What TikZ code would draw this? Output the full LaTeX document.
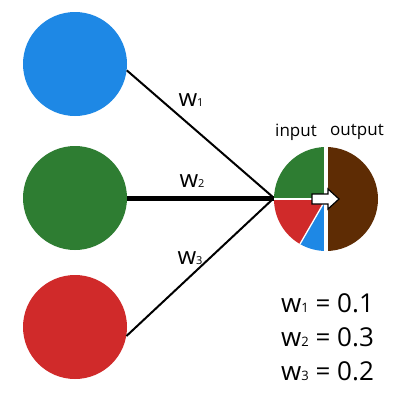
\documentclass[tikz,border=0pt]{standalone}
\usepackage{fontspec}
\setmainfont{Open Sans}
\definecolor{cblue}{RGB}{30,136,229}
\definecolor{cgreen}{RGB}{46,125,50}
\definecolor{cred}{RGB}{208,42,42}
\definecolor{cbrown}{RGB}{94,44,4}
\tikzset{
  neuron/.style={circle, minimum size=104pt, inner sep=0pt, draw=none},
  wlab/.style={font=\fontsize{24}{26}\selectfont, inner sep=0pt},
  eqlab/.style={font=\fontsize{26}{28}\selectfont, inner sep=0pt, anchor=base west},
  hdr/.style={font=\fontsize{17}{19}\selectfont, inner sep=0pt},
  conn/.style={line width=2pt},
}
\newcommand{\sbx}[1]{{\fontsize{11}{12}\selectfont #1}}
\newcommand{\sbe}[1]{{\fontsize{13}{14}\selectfont #1}}
\begin{document}
\begin{tikzpicture}[x=1pt,y=-1pt]
\useasboundingbox (0,0) rectangle (400,400);
\fill[white] (0,0) rectangle (400,400);
\node[neuron, fill=cblue] (b) at (75,64) {};
\node[neuron, fill=cgreen] (g) at (75,198) {};
\node[neuron, fill=cred] (r) at (75,327) {};
\coordinate (hub) at (274,198);
\draw[conn] (b.-7) -- (hub);
\draw[line width=5pt] (g.0) -- (hub);
\draw[conn] (r.-10) -- (hub);
\begin{scope}[shift={(326,199)}, y=1pt]
  \fill[cgreen] (0,0) -- (90:52) arc[start angle=90, end angle=180, radius=52] -- cycle;
  \fill[cred] (0,0) -- (180:52) arc[start angle=180, end angle=240, radius=52] -- cycle;
  \fill[cblue] (0,0) -- (240:52) arc[start angle=240, end angle=270, radius=52] -- cycle;
  \fill[cbrown] (0,0) -- (-90:52) arc[start angle=-90, end angle=90, radius=52] -- cycle;
  \draw[white, line width=1.3pt] (0,0) -- (180:52);
  \draw[white, line width=1.3pt] (0,0) -- (240:52);
  \draw[white, line width=3.5pt] (0,53) -- (0,-53);
  \draw[black, line width=1.2pt, fill=white, line join=miter]
    (-14,5) -- (2,5) -- (2,10) -- (13,0) -- (2,-10) -- (2,-5) -- (-14,-5) -- cycle;
\end{scope}
\node[hdr] (in) at (296,132) {input};
\node[hdr] (out) at (357,132) {output};
\node[wlab] (l1) at (191,100) {w\sbx{1}};
\node[wlab] (l2) at (192,181) {w\sbx{2}};
\node[wlab] (l3) at (190,258) {w\sbx{3}};
\node[eqlab] (e1) at (281,312) {w\sbe{1} = 0.1};
\node[eqlab] (e2) at (281,346) {w\sbe{2} = 0.3};
\node[eqlab] (e3) at (281,380) {w\sbe{3} = 0.2};
\end{tikzpicture}
\end{document}
